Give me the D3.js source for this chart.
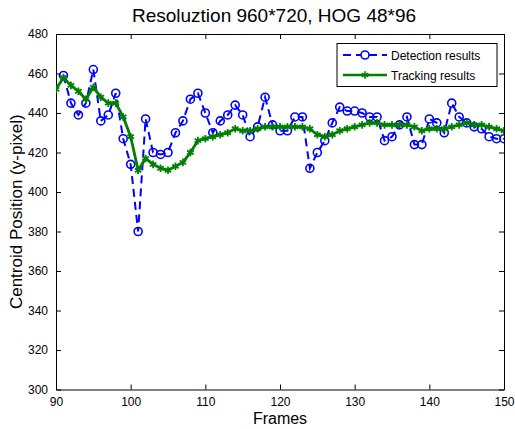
<!DOCTYPE html>
<html>
<head>
<meta charset="utf-8">
<script src="https://cdn.jsdelivr.net/npm/d3@7"></script>
<style>
  html, body { margin: 0; padding: 0; background: #fff; }
  svg text { font-family: "Liberation Sans", Arial, sans-serif; fill: #000; }
</style>
</head>
<body>
<svg id="chart" width="515" height="429"></svg>
<script>
// Detection results: one per frame, 91..150
const detFrames = d3.range(91, 151);
const detValues = [
  459, 445, 439, 445, 462, 436, 439, 450, 427, 414,
  380, 437, 420, 419, 420, 430, 436, 447, 450, 440,
  430, 436, 439, 444, 439, 428, 433, 448, 434, 431,
  431, 438, 438, 412, 420, 426, 435, 443, 441, 441,
  440, 438, 438, 426, 428, 434, 438, 424, 424, 437,
  435, 430, 445, 438, 435, 433, 432, 428, 427, 427
];

// Tracking results: one per frame, 90..150
const trkFrames = d3.range(90, 151);
const trkValues = [
  452, 458, 454, 451, 447, 453, 448, 445, 445, 438,
  428, 411, 417, 414, 412, 411, 413, 415, 420, 426,
  427, 428, 429, 430, 432, 431, 431, 432, 433, 433,
  433, 433, 433, 433, 432, 429, 428, 429, 431, 432,
  433, 434, 435, 435, 434, 434, 434, 434, 433, 431,
  432, 432, 432, 433, 434, 435, 434, 434, 433, 432,
  431
];

const xTicks = [90, 100, 110, 120, 130, 140, 150];
const yTicks = [300, 320, 340, 360, 380, 400, 420, 440, 460, 480];

const titleText = "Resoluztion 960*720, HOG 48*96";
const xLabel = "Frames";
const yLabel = "Centroid Position (y-pixel)";
const seriesNames = ["Detection results", "Tracking results"];

const svg = d3.select("#chart");
const m = { left: 56, right: 504, top: 34, bottom: 389.5 };

const x = d3.scaleLinear().domain([90, 150]).range([m.left, m.right]);
const y = d3.scaleLinear().domain([300, 480]).range([m.bottom, m.top]);

const blue = "#0000ff";
const green = "#008000";

// clip for the data area
svg.append("clipPath").attr("id", "plotClip")
  .append("rect")
  .attr("x", m.left).attr("y", m.top)
  .attr("width", m.right - m.left).attr("height", m.bottom - m.top);

// axes (MATLAB-style: ticks inward on all four sides)
const tickLen = 5;
const axB = svg.append("g").attr("transform", `translate(0,${m.bottom})`)
  .call(d3.axisBottom(x).tickValues(xTicks).tickSize(-tickLen).tickSizeOuter(0).tickPadding(8));
const axT = svg.append("g").attr("transform", `translate(0,${m.top})`)
  .call(d3.axisTop(x).tickValues(xTicks).tickSize(-tickLen).tickSizeOuter(0).tickFormat(""));
const axL = svg.append("g").attr("transform", `translate(${m.left},0)`)
  .call(d3.axisLeft(y).tickValues(yTicks).tickSize(-tickLen).tickSizeOuter(0).tickPadding(8));
const axR = svg.append("g").attr("transform", `translate(${m.right},0)`)
  .call(d3.axisRight(y).tickValues(yTicks).tickSize(-tickLen).tickSizeOuter(0).tickFormat(""));

[axB, axT, axL, axR].forEach(g => {
  g.selectAll(".domain").attr("stroke", "#000").attr("stroke-width", 1);
  g.selectAll(".tick line").attr("stroke", "#000");
  g.selectAll("text").attr("font-size", 12).attr("font-family", "Liberation Sans, Arial, sans-serif");
});
axB.selectAll("text").attr("dy", "0.71em");

// data layers
const plot = svg.append("g").attr("clip-path", "url(#plotClip)");

const detData = detFrames.map((f, i) => ({ f, v: detValues[i] }));
const trkData = trkFrames.map((f, i) => ({ f, v: trkValues[i] }));

const line = d3.line().x(d => x(d.f)).y(d => y(d.v));

plot.append("path").datum(detData)
  .attr("d", line).attr("fill", "none")
  .attr("stroke", blue).attr("stroke-width", 2)
  .attr("stroke-dasharray", "8,5");

plot.selectAll("circle.det").data(detData).enter().append("circle")
  .attr("class", "det")
  .attr("cx", d => x(d.f)).attr("cy", d => y(d.v)).attr("r", 4)
  .attr("fill", "none").attr("stroke", blue).attr("stroke-width", 1.6);

plot.append("path").datum(trkData)
  .attr("d", line).attr("fill", "none")
  .attr("stroke", green).attr("stroke-width", 2.8);

const star = d3.symbol().type(d3.symbolAsterisk).size(40);
plot.selectAll("path.trk").data(trkData).enter().append("path")
  .attr("class", "trk")
  .attr("transform", d => `translate(${x(d.f)},${y(d.v)})`)
  .attr("d", star)
  .attr("fill", "none").attr("stroke", green).attr("stroke-width", 1.8);

// title and axis labels
svg.append("text").attr("x", 274).attr("y", 22)
  .attr("text-anchor", "middle").attr("font-size", 19).text(titleText);
svg.append("text").attr("x", (m.left + m.right) / 2).attr("y", 424)
  .attr("text-anchor", "middle").attr("font-size", 16).text(xLabel);
svg.append("text")
  .attr("transform", `translate(22,${(m.top + m.bottom) / 2}) rotate(-90)`)
  .attr("text-anchor", "middle").attr("font-size", 17).text(yLabel);

// legend
const lg = svg.append("g");
lg.append("rect").attr("x", 337).attr("y", 43.5).attr("width", 160).attr("height", 43)
  .attr("fill", "#fff").attr("stroke", "#000").attr("stroke-width", 1);
const rows = [
  { name: seriesNames[0], color: blue, dash: "8,5", w: 2, mark: "circle", yy: 55 },
  { name: seriesNames[1], color: green, dash: null, w: 2.5, mark: "star", yy: 75 }
];
rows.forEach(r => {
  lg.append("line").attr("x1", 343).attr("x2", 387).attr("y1", r.yy).attr("y2", r.yy)
    .attr("stroke", r.color).attr("stroke-width", r.w)
    .attr("stroke-dasharray", r.dash);
  if (r.mark === "circle") {
    lg.append("circle").attr("cx", 365).attr("cy", r.yy).attr("r", 4)
      .attr("fill", "#fff").attr("stroke", r.color).attr("stroke-width", 1.6);
  } else {
    lg.append("path").attr("transform", `translate(365,${r.yy})`).attr("d", star)
      .attr("fill", "none").attr("stroke", r.color).attr("stroke-width", 1.6);
  }
  lg.append("text").attr("x", 391).attr("y", r.yy + 4.5).attr("font-size", 12).text(r.name);
});
</script>
</body>
</html>
